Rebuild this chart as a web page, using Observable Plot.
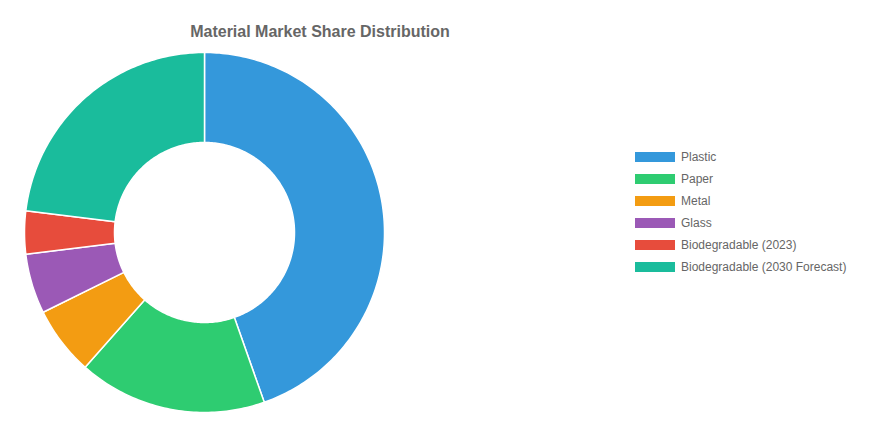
<!DOCTYPE html>
<html>
<head>
<meta charset="utf-8">
<script src="https://cdn.jsdelivr.net/npm/d3@7"></script>
<script src="https://cdn.jsdelivr.net/npm/@observablehq/plot@0.6"></script>
<style>
  html, body { margin: 0; padding: 0; background: #fff; }
  #wrap { position: relative; width: 872px; height: 426px; font-family: "Liberation Sans", Arial, sans-serif; }
  #wrap svg { position: absolute; left: 0; top: 0; }
  #title { position: absolute; left: 0; width: 640px; top: 23px; text-align: center; font-weight: bold; font-size: 16px; color: #666; }
  .lg { position: absolute; left: 635px; height: 22px; display: flex; align-items: center; font-size: 12px; color: #666; white-space: nowrap; }
  .lg span.box { display: inline-block; width: 40px; height: 10px; margin-right: 6px; }
</style>
</head>
<body>
<div id="wrap">
  <div id="title">Material Market Share Distribution</div>
</div>
<script>
const categories = ["Plastic", "Paper", "Metal", "Glass", "Biodegradable (2023)", "Biodegradable (2030 Forecast)"];
const values = [58, 22, 8, 7, 5, 30];
const colors = ["#3498db", "#2ecc71", "#f39c12", "#9b59b6", "#e74c3c", "#1abc9c"];

const W = 872, H = 426, cx = 204, cy = 232, R = 180, innerFrac = 0.5;

const pie = d3.pie().sort(null).value(d => d.value);
const arcs = pie(categories.map((c, i) => ({name: c, value: values[i]})));

const pts = [];
for (const a of arcs) {
  const n = Math.max(8, Math.ceil((a.endAngle - a.startAngle) * 60));
  const ring = [];
  for (let k = 0; k <= n; k++) {
    const t = a.startAngle + (a.endAngle - a.startAngle) * k / n;
    ring.push({name: a.data.name, x: Math.sin(t), y: Math.cos(t)});
  }
  for (let k = n; k >= 0; k--) {
    const t = a.startAngle + (a.endAngle - a.startAngle) * k / n;
    ring.push({name: a.data.name, x: innerFrac * Math.sin(t), y: innerFrac * Math.cos(t)});
  }
  pts.push(...ring);
}

const chart = Plot.plot({
  width: W,
  height: H,
  margin: 0,
  x: {domain: [-cx / R, (W - cx) / R], axis: null},
  y: {domain: [-(H - cy) / R, cy / R], axis: null},
  color: {domain: categories, range: colors},
  marks: [
    Plot.line(pts, {x: "x", y: "y", z: "name", fill: "name", stroke: "#fff", strokeWidth: 1.5, curve: "linear-closed", strokeLinejoin: "round"})
  ]
});
const wrap = document.getElementById("wrap");
wrap.insertBefore(chart, wrap.firstChild);

categories.forEach((c, i) => {
  const d = document.createElement("div");
  d.className = "lg";
  d.style.top = (146 + i * 22) + "px";
  d.innerHTML = `<span class="box" style="background:${colors[i]}"></span>${c}`;
  wrap.appendChild(d);
});
</script>
</body>
</html>
